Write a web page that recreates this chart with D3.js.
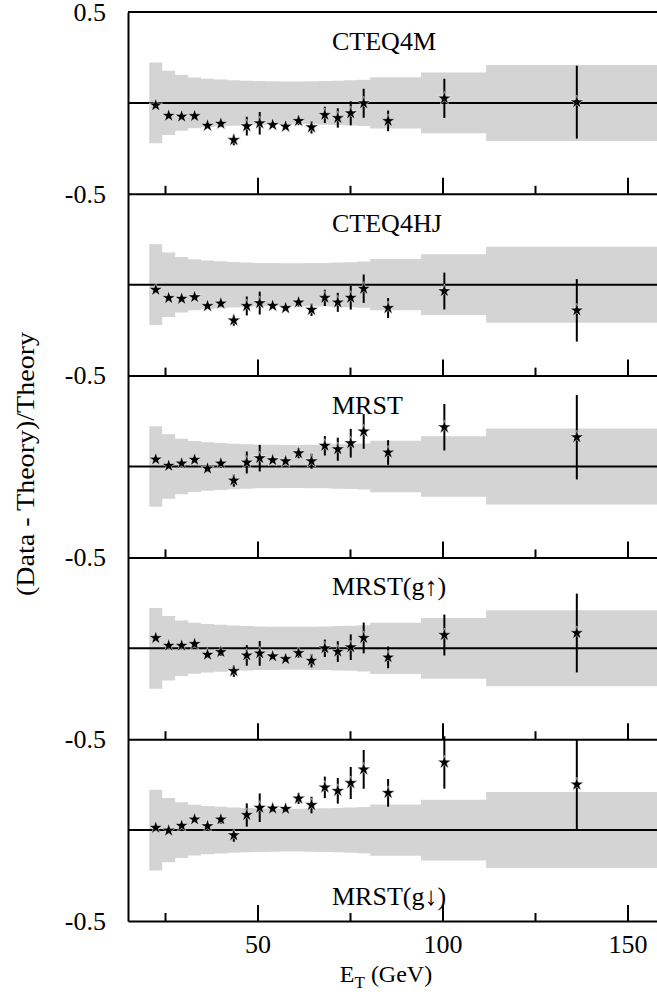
<!DOCTYPE html>
<html>
<head>
<meta charset="utf-8">
<script src="https://cdn.jsdelivr.net/npm/d3@7"></script>
<style>
  body { margin: 0; background: #fff; }
  svg text { font-family: "Liberation Serif", "Times New Roman", serif; fill: #000; }
</style>
</head>
<body>
<div id="chart"></div>
<script>
// jet E_T bin centres (GeV)
var energies = [22.5, 26.0, 29.5, 33.0, 36.5, 40.1, 43.6, 47.1, 50.6, 54.1, 57.6, 61.1, 64.6, 68.2, 71.7, 75.2, 78.7, 85.3, 100.5, 136.3];
// relative statistical error of the data
var relErr = [0.010, 0.012, 0.012, 0.013, 0.015, 0.022, 0.037, 0.059, 0.070, 0.015, 0.015, 0.026, 0.040, 0.048, 0.058, 0.070, 0.080, 0.063, 0.105, 0.200];

// (Data - Theory)/Theory for each pdf
var cteq4m   = [-0.013, -0.070, -0.075, -0.072, -0.125, -0.114, -0.204, -0.128, -0.112, -0.121, -0.130, -0.099, -0.134, -0.066, -0.083, -0.057, -0.002, -0.099, 0.025, 0.004];
var cteq4hj  = [-0.028, -0.073, -0.077, -0.068, -0.117, -0.103, -0.196, -0.117, -0.101, -0.116, -0.128, -0.097, -0.138, -0.072, -0.097, -0.072, -0.022, -0.128, -0.035, -0.141];
var mrst     = [0.039, 0.004, 0.017, 0.037, -0.011, 0.017, -0.077, 0.022, 0.046, 0.035, 0.029, 0.073, 0.029, 0.114, 0.095, 0.128, 0.193, 0.077, 0.216, 0.161];
var mrstUp   = [0.057, 0.015, 0.015, 0.024, -0.035, -0.020, -0.125, -0.039, -0.028, -0.044, -0.059, -0.026, -0.068, 0.000, -0.018, 0.006, 0.057, -0.050, 0.073, 0.084];
var mrstDown = [0.013, -0.002, 0.024, 0.059, 0.022, 0.059, -0.028, 0.083, 0.123, 0.119, 0.117, 0.174, 0.138, 0.235, 0.216, 0.259, 0.334, 0.205, 0.372, 0.251];

// systematic band: bin edges (GeV) and half width
var bandEdges = [20.75, 24.25, 27.75, 31.25, 34.75, 38.25, 41.85, 45.35, 48.85, 52.35, 55.85, 59.35, 62.85, 66.4, 69.95, 73.45, 76.95, 80.45, 94.2, 111.8, 160];
var bandHalf  = [0.222, 0.177, 0.153, 0.140, 0.133, 0.129, 0.125, 0.122, 0.120, 0.119, 0.118, 0.118, 0.119, 0.120, 0.122, 0.124, 0.127, 0.141, 0.167, 0.209];

var panelNames = ["CTEQ4M", "CTEQ4HJ", "MRST", "MRST(g\u2191)", "MRST(g\u2193)"];
var panelSeries = [cteq4m, cteq4hj, mrst, mrstUp, mrstDown];

var majorTicks = [50, 100, 150];
var minorTicks = [25, 75, 125];

var width = 657, height = 994;
var marginLeft = 128, marginTop = 12, panelH = 181.8;

var x = d3.scaleLinear().domain([15, 160]).range([marginLeft, marginLeft + 145 * 3.7]);

var svg = d3.select('#chart')
  .append('svg')
  .attr('width', width)
  .attr('height', height);

var bandPts = bandEdges.map(function(e, j) {
  return { e: e, h: bandHalf[Math.min(j, bandHalf.length - 1)] };
});

var star = d3.symbol().type(d3.symbolStar).size(56);

panelSeries.forEach(function(vals, i) {
  var y0 = marginTop + i * panelH;
  var y = d3.scaleLinear().domain([-0.5, 0.5]).range([y0 + panelH, y0]);
  var g = svg.append('g');

  // grey band
  var area = d3.area()
    .curve(d3.curveStepAfter)
    .x(function(d) { return x(d.e); })
    .y0(function(d) { return y(-d.h); })
    .y1(function(d) { return y(d.h); });
  g.append('path')
    .datum(bandPts)
    .attr('d', area)
    .attr('fill', '#d4d4d4');

  // zero line
  g.append('line')
    .attr('x1', x(15)).attr('x2', x(160))
    .attr('y1', y(0)).attr('y2', y(0))
    .attr('stroke', '#000').attr('stroke-width', 2);

  // error bars
  g.selectAll('.err')
    .data(vals)
    .enter()
    .append('line')
    .attr('class', 'err')
    .attr('x1', function(d, k) { return x(energies[k]); })
    .attr('x2', function(d, k) { return x(energies[k]); })
    .attr('y1', function(d, k) { return y(d - relErr[k] * (1 + d)); })
    .attr('y2', function(d, k) { return y(d + relErr[k] * (1 + d)); })
    .attr('stroke', '#000')
    .attr('stroke-width', 2);

  // stars
  g.selectAll('.pt')
    .data(vals)
    .enter()
    .append('path')
    .attr('class', 'pt')
    .attr('d', star)
    .attr('transform', function(d, k) { return 'translate(' + x(energies[k]) + ',' + y(d) + ')'; })
    .attr('fill', '#000')
    .attr('stroke', '#fff')
    .attr('stroke-width', 0.5);

  // bottom ticks (pointing up)
  var last = i === panelSeries.length - 1;
  g.append('g')
    .attr('transform', 'translate(0,' + (y0 + panelH) + ')')
    .call(d3.axisBottom(x).tickValues(majorTicks).tickSizeInner(-16).tickSizeOuter(0)
      .tickPadding(14).tickFormat(last ? d3.format('d') : ''));
  g.append('g')
    .attr('transform', 'translate(0,' + (y0 + panelH) + ')')
    .call(d3.axisBottom(x).tickValues(minorTicks).tickSizeInner(-8).tickSizeOuter(0).tickFormat(''))
    .select('.domain').remove();

  // left axis labels
  g.append('g')
    .attr('transform', 'translate(' + marginLeft + ',0)')
    .call(d3.axisLeft(y).tickValues(i === 0 ? [-0.5, 0.5] : [-0.5]).tickSize(0).tickPadding(22)
      .tickFormat(function(d) { return d < 0 ? '-0.5' : '0.5'; }));

  if (i === 0) {
    g.append('line')
      .attr('x1', marginLeft).attr('x2', x(160))
      .attr('y1', y0).attr('y2', y0)
      .attr('stroke', '#000').attr('stroke-width', 2);
  }

  g.selectAll('.domain, .tick line').attr('stroke', '#000').attr('stroke-width', 2);
  g.selectAll('.tick text').attr('font-size', 26).style('font-family', '"Liberation Serif", serif');

  // pdf label
  g.append('text')
    .attr('x', 332)
    .attr('y', last ? y0 + panelH - 16 : y0 + 38)
    .attr('font-size', 26)
    .text(panelNames[i]);
});

// axis titles
var xt = svg.append('text')
  .attr('x', 386)
  .attr('y', 982)
  .attr('text-anchor', 'middle')
  .attr('font-size', 24);
xt.append('tspan').text('E');
xt.append('tspan').attr('font-size', 17).attr('dy', 6).text('T');
xt.append('tspan').attr('dy', -6).text(' (GeV)');

svg.append('text')
  .attr('transform', 'translate(34,' + 464 + ') rotate(-90)')
  .attr('text-anchor', 'middle')
  .attr('font-size', 25)
  .attr('textLength', 264)
  .attr('lengthAdjust', 'spacingAndGlyphs')
  .text('(Data - Theory)/Theory');
</script>
</body>
</html>
